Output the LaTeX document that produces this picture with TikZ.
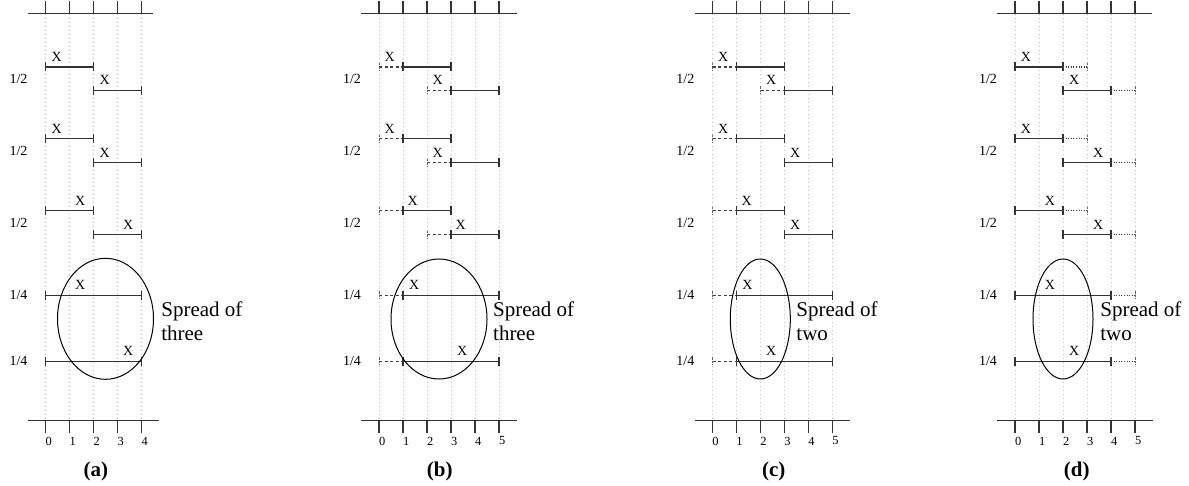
\documentclass[tikz,border=0pt]{standalone}
\usepackage{fontspec}
\setmainfont{Liberation Serif}
\tikzset{
 ivl/.style={line width=0.7pt, draw=black!80},
 dashivl/.style={line width=0.6pt, draw=black!75, dash pattern=on 1.6pt off 1.2pt},
 dotivl/.style={line width=0.6pt, draw=black!75, dash pattern=on 0.4pt off 0.9pt},
 ftick/.style={line width=0.45pt, draw=black!60, dash pattern=on 1.2pt off 0.6pt},
 axisln/.style={line width=0.65pt, draw=black!80},
 gridln/.style={line width=0.4pt, draw=black!25, dash pattern=on 0.5pt off 1.5pt},
 xl/.style={font=\fontsize{7}{8}\selectfont, inner sep=0},
 rl/.style={font=\fontsize{7}{8}\selectfont, inner sep=0},
 tl/.style={font=\fontsize{6.2}{7}\selectfont, inner sep=0},
 sp/.style={font=\fontsize{10.5}{12.2}\selectfont, inner sep=0, anchor=base west, align=left},
 pl/.style={font=\fontsize{10.5}{12}\selectfont\bfseries, inner sep=0},
 spreadell/.style={line width=0.5pt, draw=black}
}
\newcommand\sseg[3]{%
 \draw[ivl] (#1,#3) -- (#2,#3);
 \draw[ivl] (#1,#3-4.5) -- (#1,#3+4.5);
 \draw[ivl] (#2,#3-4.5) -- (#2,#3+4.5);}
\newcommand\dseg[3]{%
 \draw[dashivl] (#1,#3) -- (#2,#3);
 \draw[ftick] (#1,#3-4) -- (#1,#3+4);}
\newcommand\oseg[3]{%
 \draw[dotivl] (#1,#3) -- (#2,#3);
 \draw[ftick] (#2,#3-4) -- (#2,#3+4);}
\newcommand\xm[3]{\node[xl] (#1) at (#2,#3-10) {X};}
\newcommand\axes[3]{%
 \foreach \i in {0,...,#1} {\draw[gridln] (\i,14) -- (\i,420);}
 \draw[axisln] (-0.73,13.3) -- (#2,13.3);
 \draw[axisln] (-0.73,420.7) -- (#1+0.73,420.7);
 \foreach \i in {0,...,#1} {%
   \draw[axisln] (\i,1.5) -- (\i,13.3);
   \draw[axisln] (\i,420.7) -- (\i,432.7);
   \node[tl] (#3t\i) at (\i+0.13,441) {\i};}
}
\newcommand\rowlabels[1]{%
 \node[rl] (#1r1) at (-1.125,78.7) {1/2};
 \node[rl] (#1r2) at (-1.125,150.7) {1/2};
 \node[rl] (#1r3) at (-1.125,222.7) {1/2};
 \node[rl] (#1r4) at (-1.125,295.3) {1/4};
 \node[rl] (#1r5) at (-1.125,361.3) {1/4};}
\begin{document}
\begin{tikzpicture}[x=0.5pt,y=-0.5pt]
\useasboundingbox (0,0) rectangle (1189,486);

% ---------- panel (a)
\begin{scope}[shift={(45.5,0)}, x=12pt]
 \axes{4}{4.48}{a}
 \rowlabels{a}
 \sseg{0}{2}{67}    \xm{aX1}{0.47}{67}
 \sseg{2}{4}{90.3}  \xm{aX2}{2.47}{90.3}
 \sseg{0}{2}{138.7} \xm{aX3}{0.47}{138.7}
 \sseg{2}{4}{162.7} \xm{aX4}{2.47}{162.7}
 \sseg{0}{2}{210.8} \xm{aX5}{1.45}{210.8}
 \sseg{2}{4}{234.7} \xm{aX6}{3.45}{234.7}
 \sseg{0}{4}{295.3} \xm{aX7}{1.45}{295.3}
 \sseg{0}{4}{361.3} \xm{aX8}{3.45}{361.3}
 \draw[spreadell] (2.5,318.8) ellipse [x radius=2, y radius=60.5];
 \node[sp] (aS) at (4.81,341) {Spread of\\three};
\end{scope}
\node[pl] (pa) at (95.8,471) {(a)};

% ---------- panel (b)
\begin{scope}[shift={(379,0)}, x=12pt]
 \axes{5}{5.74}{b}
 \rowlabels{b}
 \dseg{0}{1}{67}    \sseg{1}{3}{67}    \xm{bX1}{0.45}{67}
 \dseg{2}{3}{90.3}  \sseg{3}{5}{90.3}  \xm{bX2}{2.45}{90.3}
 \dseg{0}{1}{138.7} \sseg{1}{3}{138.7} \xm{bX3}{0.45}{138.7}
 \dseg{2}{3}{162.7} \sseg{3}{5}{162.7} \xm{bX4}{2.45}{162.7}
 \dseg{0}{1}{210.8} \sseg{1}{3}{210.8} \xm{bX5}{1.4}{210.8}
 \dseg{2}{3}{234.7} \sseg{3}{5}{234.7} \xm{bX6}{3.4}{234.7}
 \dseg{0}{1}{295.3} \sseg{1}{5}{295.3} \xm{bX7}{1.47}{295.3}
 \dseg{0}{1}{361.3} \sseg{1}{5}{361.3} \xm{bX8}{3.47}{361.3}
 \draw[spreadell] (2.5,319) ellipse [x radius=2, y radius=60];
 \node[sp] (bS) at (4.74,341) {Spread of\\three};
\end{scope}
\node[pl] (pb) at (439.7,471) {(b)};

% ---------- panel (c)
\begin{scope}[shift={(712.3,0)}, x=12pt]
 \axes{5}{5.74}{c}
 \rowlabels{c}
 \dseg{0}{1}{67}    \sseg{1}{3}{67}    \xm{cX1}{0.45}{67}
 \dseg{2}{3}{90.3}  \sseg{3}{5}{90.3}  \xm{cX2}{2.45}{90.3}
 \dseg{0}{1}{138.7} \sseg{1}{3}{138.7} \xm{cX3}{0.45}{138.7}
                    \sseg{3}{5}{162.7} \xm{cX4}{3.45}{162.7}
 \dseg{0}{1}{210.8} \sseg{1}{3}{210.8} \xm{cX5}{1.43}{210.8}
                    \sseg{3}{5}{234.7} \xm{cX6}{3.45}{234.7}
 \dseg{0}{1}{295.3} \sseg{1}{5}{295.3} \xm{cX7}{1.46}{295.3}
 \dseg{0}{1}{361.3} \sseg{1}{5}{361.3} \xm{cX8}{2.45}{361.3}
 \draw[spreadell] (2,319) ellipse [x radius=1.25, y radius=60];
 \node[sp] (cS) at (3.49,341) {Spread of\\two};
\end{scope}
\node[pl] (pc) at (773.7,471) {(c)};

% ---------- panel (d)
\begin{scope}[shift={(1015,0)}, x=12pt]
 \axes{5}{5.72}{d}
 \rowlabels{d}
 \sseg{0}{2}{67}    \oseg{2}{3}{67}    \xm{dX1}{0.46}{67}
 \sseg{2}{4}{90.3}  \oseg{4}{5}{90.3}  \xm{dX2}{2.47}{90.3}
 \sseg{0}{2}{138.7} \oseg{2}{3}{138.7} \xm{dX3}{0.46}{138.7}
 \sseg{2}{4}{162.7} \oseg{4}{5}{162.7} \xm{dX4}{3.47}{162.7}
 \sseg{0}{2}{210.8} \oseg{2}{3}{210.8} \xm{dX5}{1.46}{210.8}
 \sseg{2}{4}{234.7} \oseg{4}{5}{234.7} \xm{dX6}{3.47}{234.7}
 \sseg{0}{4}{295.3} \oseg{4}{5}{295.3} \xm{dX7}{1.46}{295.3}
 \sseg{0}{4}{361.3} \oseg{4}{5}{361.3} \xm{dX8}{2.47}{361.3}
 \draw[spreadell] (2,319) ellipse [x radius=1.25, y radius=60];
 \node[sp] (dS) at (3.54,341) {Spread of\\two};
\end{scope}
\node[pl] (pd) at (1076.7,471) {(d)};
\end{tikzpicture}
\end{document}
